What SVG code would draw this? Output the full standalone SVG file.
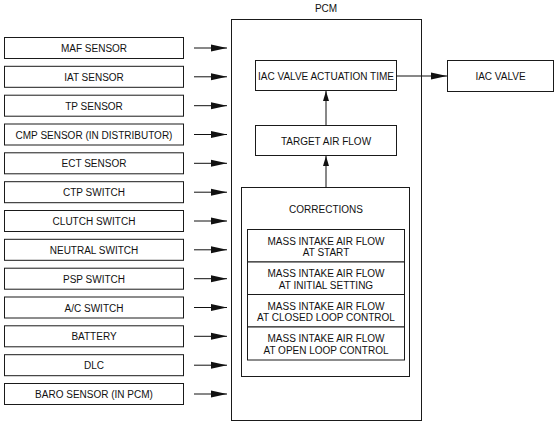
<svg xmlns="http://www.w3.org/2000/svg" width="556" height="423" viewBox="0 0 556 423">
<style>
.b{fill:#fff;stroke:#1a1a1a;stroke-width:1}
.t{font-family:"Liberation Sans",Arial,sans-serif;font-size:10px;fill:#111;text-anchor:middle}
.c{stroke:#111;stroke-width:1;fill:none}
</style>
<defs>
<marker id="ah" markerUnits="userSpaceOnUse" markerWidth="17" markerHeight="8" refX="16" refY="4" orient="auto"><path d="M0,0.5 L16,4 L0,7.5 Z" fill="#111"/></marker>
<marker id="av" markerUnits="userSpaceOnUse" markerWidth="11" markerHeight="7" refX="10" refY="3.5" orient="auto"><path d="M0,0.5 L10,3.5 L0,6.5 Z" fill="#111"/></marker>
</defs>
<rect width="556" height="423" fill="#fff"/>
<g id="inputs">
<g id="maf"><rect class="b" x="4.5" y="37.5" width="179" height="21"/><text class="t" x="94" y="52">MAF SENSOR</text></g>
<g id="iat"><rect class="b" x="4.5" y="66.3" width="179" height="21"/><text class="t" x="94" y="80.8">IAT SENSOR</text></g>
<g id="tp"><rect class="b" x="4.5" y="95.2" width="179" height="21"/><text class="t" x="94" y="109.7">TP SENSOR</text></g>
<g id="cmp"><rect class="b" x="4.5" y="124" width="179" height="21"/><text class="t" x="94" y="138.5">CMP SENSOR (IN DISTRIBUTOR)</text></g>
<g id="ect"><rect class="b" x="4.5" y="152.8" width="179" height="21"/><text class="t" x="94" y="167.3">ECT SENSOR</text></g>
<g id="ctp"><rect class="b" x="4.5" y="181.7" width="179" height="21"/><text class="t" x="94" y="196.2">CTP SWITCH</text></g>
<g id="clutch"><rect class="b" x="4.5" y="210.5" width="179" height="21"/><text class="t" x="94" y="225">CLUTCH SWITCH</text></g>
<g id="neutral"><rect class="b" x="4.5" y="239.3" width="179" height="21"/><text class="t" x="94" y="253.8">NEUTRAL SWITCH</text></g>
<g id="psp"><rect class="b" x="4.5" y="268.2" width="179" height="21"/><text class="t" x="94" y="282.7">PSP SWITCH</text></g>
<g id="ac"><rect class="b" x="4.5" y="297" width="179" height="21"/><text class="t" x="94" y="311.5">A/C SWITCH</text></g>
<g id="battery"><rect class="b" x="4.5" y="325.8" width="179" height="21"/><text class="t" x="94" y="340.3">BATTERY</text></g>
<g id="dlc"><rect class="b" x="4.5" y="354.7" width="179" height="21"/><text class="t" x="94" y="369.2">DLC</text></g>
<g id="baro"><rect class="b" x="4.5" y="383.5" width="179" height="21"/><text class="t" x="94" y="398">BARO SENSOR (IN PCM)</text></g>
</g>
<g id="pcm"><rect class="b" x="231.5" y="19.5" width="190" height="401"/><text class="t" x="326" y="12">PCM</text></g>
<g id="actuation"><rect class="b" x="255.5" y="60.5" width="141" height="30"/><text class="t" x="326" y="79.5">IAC VALVE ACTUATION TIME</text></g>
<g id="iacvalve"><rect class="b" x="447.5" y="60.5" width="106" height="31"/><text class="t" x="500.5" y="80">IAC VALVE</text></g>
<g id="target"><rect class="b" x="255.5" y="125.5" width="141" height="30"/><text class="t" x="326" y="144.5">TARGET AIR FLOW</text></g>
<g id="corrections"><rect class="b" x="241.5" y="187.5" width="168" height="189"/><text class="t" x="326" y="213">CORRECTIONS</text>
<rect class="b" x="247.5" y="229.5" width="157" height="32.5"/><text class="t" x="326" y="244.5">MASS INTAKE AIR FLOW</text><text class="t" x="326" y="256">AT START</text>
<rect class="b" x="247.5" y="262" width="157" height="32.5"/><text class="t" x="326" y="277">MASS INTAKE AIR FLOW</text><text class="t" x="326" y="288.5">AT INITIAL SETTING</text>
<rect class="b" x="247.5" y="294.5" width="157" height="32.5"/><text class="t" x="326" y="309.5">MASS INTAKE AIR FLOW</text><text class="t" x="326" y="321">AT CLOSED LOOP CONTROL</text>
<rect class="b" x="247.5" y="327" width="157" height="33"/><text class="t" x="326" y="342">MASS INTAKE AIR FLOW</text><text class="t" x="326" y="353.5">AT OPEN LOOP CONTROL</text>
</g>
<g id="connectors">
<line class="c" x1="194" y1="48" x2="227" y2="48" marker-end="url(#ah)"/>
<line class="c" x1="194" y1="76.8" x2="227" y2="76.8" marker-end="url(#ah)"/>
<line class="c" x1="194" y1="105.7" x2="227" y2="105.7" marker-end="url(#ah)"/>
<line class="c" x1="194" y1="134.5" x2="227" y2="134.5" marker-end="url(#ah)"/>
<line class="c" x1="194" y1="163.3" x2="227" y2="163.3" marker-end="url(#ah)"/>
<line class="c" x1="194" y1="192.2" x2="227" y2="192.2" marker-end="url(#ah)"/>
<line class="c" x1="194" y1="221" x2="227" y2="221" marker-end="url(#ah)"/>
<line class="c" x1="194" y1="249.8" x2="227" y2="249.8" marker-end="url(#ah)"/>
<line class="c" x1="194" y1="278.7" x2="227" y2="278.7" marker-end="url(#ah)"/>
<line class="c" x1="194" y1="307.5" x2="227" y2="307.5" marker-end="url(#ah)"/>
<line class="c" x1="194" y1="336.3" x2="227" y2="336.3" marker-end="url(#ah)"/>
<line class="c" x1="194" y1="365.2" x2="227" y2="365.2" marker-end="url(#ah)"/>
<line class="c" x1="194" y1="394" x2="227" y2="394" marker-end="url(#ah)"/>
<line class="c" x1="396.5" y1="76" x2="447" y2="76" marker-end="url(#ah)"/>
<line class="c" x1="326" y1="125.5" x2="326" y2="91" marker-end="url(#av)"/>
<line class="c" x1="326" y1="187.5" x2="326" y2="156" marker-end="url(#av)"/>
</g>
</svg>
